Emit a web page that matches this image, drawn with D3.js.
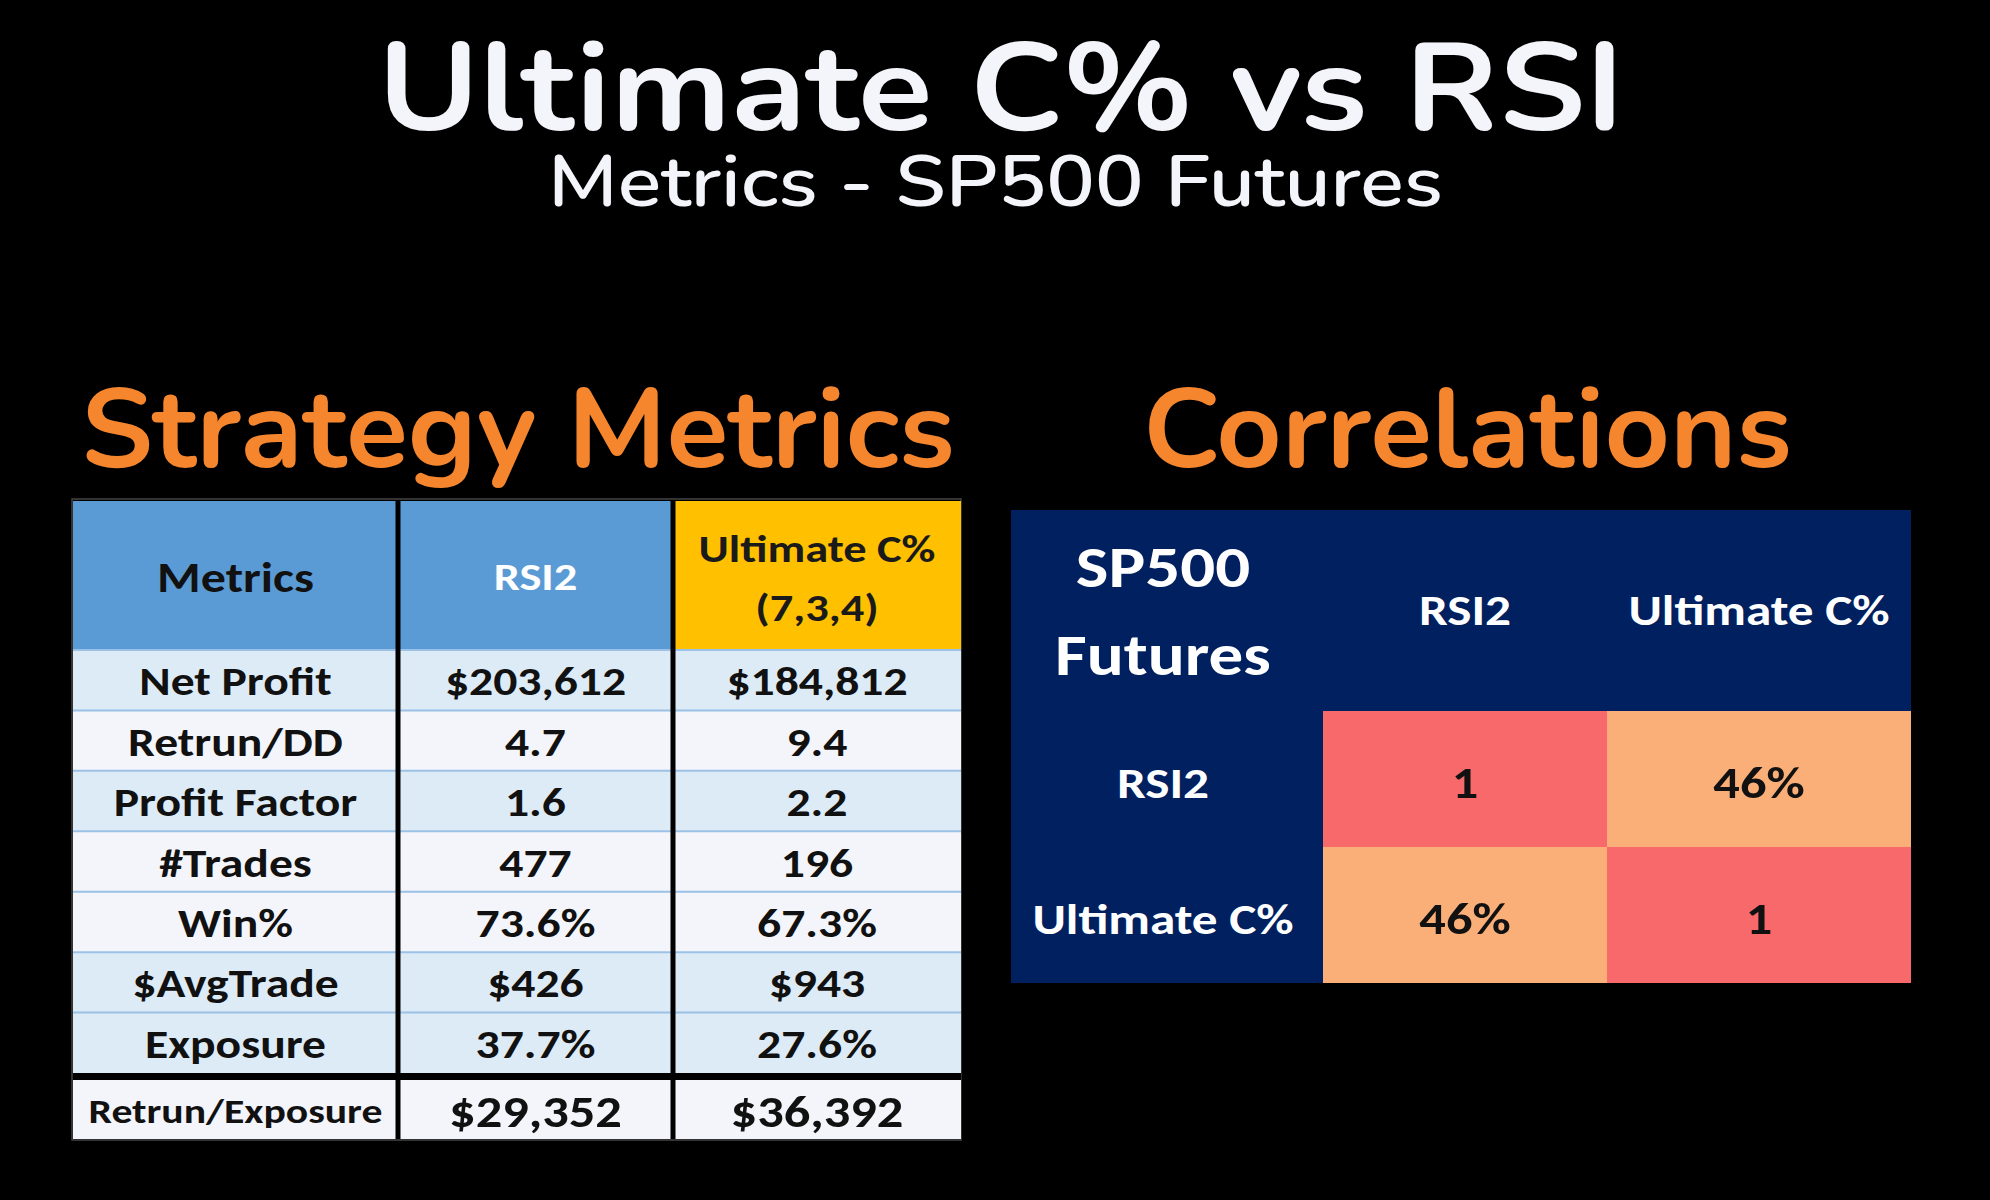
<!DOCTYPE html>
<html>
<head>
<meta charset="utf-8">
<script src="https://cdn.jsdelivr.net/npm/d3@7"></script>
<style>
  html, body { margin: 0; padding: 0; background: #000; }
  svg { display: block; }
</style>
</head>
<body>
<div id="chart"></div>
<script>
// ---- data ----
const titleText = "Ultimate C% vs RSI";
const subtitleText = "Metrics - SP500 Futures";
const leftHeading = "Strategy Metrics";
const rightHeading = "Correlations";

const metricHeader = ["Metrics", "RSI2", "Ultimate C%|(7,3,4)"];
const metricNames = ["Net Profit", "Retrun/DD", "Profit Factor", "#Trades", "Win%", "$AvgTrade", "Exposure"];
const rsi2Values = ["$203,612", "4.7", "1.6", "477", "73.6%", "$426", "37.7%"];
const ultValues = ["$184,812", "9.4", "2.2", "196", "67.3%", "$943", "27.6%"];
const footerRow = ["Retrun/Exposure", "$29,352", "$36,392"];

const corrCorner = ["SP500", "Futures"];
const corrLabels = ["RSI2", "Ultimate C%"];
const corrValues = [[1, 0.46], [0.46, 1]];

// ---- layout ----
const W = 1990, H = 1200;
const tableFont = "Carlito, Lato, 'Open Sans', sans-serif";
const titleFont = "'Nunito', 'Open Sans', 'Noto Sans', sans-serif";
const tableWeight = 800;
const stretchK = 1.19;   // excel text in the picture is drawn wider than the font

const svg = d3.select("#chart")
    .append("svg")
    .attr("width", W)
    .attr("height", H);

svg.append("rect").attr("width", W).attr("height", H).attr("fill", "#000");

// titles, stretched to the reference widths
function bigText(txt, x0, x1, y, size, color, weight) {
    svg.append("text")
        .attr("x", (x0 + x1) / 2)
        .attr("y", y)
        .attr("text-anchor", "middle")
        .attr("textLength", x1 - x0)
        .attr("lengthAdjust", "spacingAndGlyphs")
        .style("font-family", titleFont)
        .style("font-weight", weight)
        .style("font-size", size + "px")
        .style("fill", color)
        .text(txt);
}
bigText(titleText, 378, 1624, 130, 124, "#F4F5FA", 700);
bigText(subtitleText, 548, 1443, 206, 72, "#F4F5FA", 600);
bigText(leftHeading, 81, 955, 467, 112, "#F5862E", 700);
bigText(rightHeading, 1143, 1792, 467, 112, "#F5862E", 700);

// widen a text (or tspan) around its anchor
function widen(sel) {
    sel.each(function() {
        const len = this.getComputedTextLength();
        d3.select(this).attr("textLength", len * stretchK).attr("lengthAdjust", "spacingAndGlyphs");
    });
}

// ---- strategy metrics table ----
const colKeys = ["metric", "rsi", "ult"];
const colX = d3.scaleOrdinal().domain(colKeys).range([73, 398, 673]);
const colW = d3.scaleOrdinal().domain(colKeys).range([325, 275, 288]);
const headTop = 501, headBottom = 650;
const rowY = d3.scaleBand().domain(metricNames).range([headBottom, 1073]).padding(0);
const blueRows = new Set(["Net Profit", "Profit Factor", "$AvgTrade", "Exposure"]);
const footTop = 1080, footBottom = 1139;

const lt = svg.append("g");

// outer frame
lt.append("rect")
    .attr("x", 72).attr("y", headTop - 2)
    .attr("width", 961 - 72).attr("height", footBottom - headTop + 3)
    .attr("fill", "#000").attr("stroke", "#444").attr("stroke-width", 1.5);

// header cells
const headFill = ["#5B9BD5", "#5B9BD5", "#FFC000"];
const headColor = ["#111", "#FFFFFF", "#1a1a1a"];
colKeys.forEach((k, i) => {
    lt.append("rect")
        .attr("x", colX(k)).attr("y", headTop)
        .attr("width", colW(k)).attr("height", headBottom - headTop)
        .attr("fill", headFill[i]);
    const lines = metricHeader[i].split("|");
    const t = lt.append("text")
        .attr("text-anchor", "middle")
        .style("font-family", tableFont)
        .style("font-weight", i === 1 ? 700 : tableWeight)
        .style("font-size", (i === 0 ? 42 : 39) + "px")
        .style("fill", headColor[i]);
    if (lines.length === 1) {
        t.append("tspan").attr("x", colX(k) + colW(k) / 2).attr("y", i === 0 ? 592 : 590).text(lines[0]);
    } else {
        t.append("tspan").attr("x", colX(k) + colW(k) / 2).attr("y", 562).text(lines[0]);
        t.append("tspan").attr("x", colX(k) + colW(k) / 2).attr("y", 621).text(lines[1]);
    }
    widen(t.selectAll("tspan"));
});

// body cells
const rows = metricNames.map((m, i) => ({ metric: m, rsi: rsi2Values[i], ult: ultValues[i] }));
colKeys.forEach(k => {
    lt.selectAll("rect.c-" + k)
        .data(rows)
        .enter().append("rect")
        .attr("class", "c-" + k)
        .attr("x", colX(k))
        .attr("y", d => rowY(d.metric))
        .attr("width", colW(k))
        .attr("height", rowY.bandwidth())
        .attr("fill", d => blueRows.has(d.metric) ? "#DDEBF7" : "#F3F5FB");

    lt.selectAll("text.t-" + k)
        .data(rows)
        .enter().append("text")
        .attr("class", "t-" + k)
        .attr("x", colX(k) + colW(k) / 2)
        .attr("y", d => rowY(d.metric) + rowY.bandwidth() / 2 + 15)
        .attr("text-anchor", "middle")
        .style("font-family", tableFont)
        .style("font-weight", tableWeight)
        .style("font-size", "40px")
        .style("fill", "#111")
        .text(d => d[k])
        .call(widen);
});

// light blue row separators
lt.selectAll("line.sep")
    .data(metricNames.slice(1).concat(["__head"]))
    .enter().append("line")
    .attr("class", "sep")
    .attr("x1", 73).attr("x2", 961)
    .attr("y1", d => d === "__head" ? headBottom : rowY(d))
    .attr("y2", d => d === "__head" ? headBottom : rowY(d))
    .attr("stroke", "#9BC2E6").attr("stroke-width", 2);

// footer row
colKeys.forEach((k, i) => {
    lt.append("rect")
        .attr("x", colX(k)).attr("y", footTop)
        .attr("width", colW(k)).attr("height", footBottom - footTop)
        .attr("fill", "#F3F5FB");
    lt.append("text")
        .attr("x", colX(k) + colW(k) / 2)
        .attr("y", i === 0 ? 1123 : 1127)
        .attr("text-anchor", "middle")
        .style("font-family", tableFont)
        .style("font-weight", tableWeight)
        .style("font-size", (i === 0 ? 35 : 44) + "px")
        .style("fill", "#111")
        .text(footerRow[i])
        .call(widen);
});

// black column dividers and footer separator
lt.selectAll("line.vdiv")
    .data(["rsi", "ult"])
    .enter().append("line")
    .attr("class", "vdiv")
    .attr("x1", d => colX(d)).attr("x2", d => colX(d))
    .attr("y1", headTop).attr("y2", footBottom)
    .attr("stroke", "#000").attr("stroke-width", 5);
lt.append("rect")
    .attr("x", 73).attr("y", 1073)
    .attr("width", 888).attr("height", footTop - 1073)
    .attr("fill", "#000");

// ---- correlations table ----
const cLeft = 1011, cTop = 510, cRight = 1911, cBottom = 983;
const corrX = d3.scaleOrdinal().domain(corrLabels).range([1323, 1607]);
const corrW = d3.scaleOrdinal().domain(corrLabels).range([284, 304]);
const corrY = d3.scaleBand().domain(corrLabels).range([711, cBottom]).padding(0);
const corrColor = d3.scaleLinear().domain([0.46, 1]).range(["#FAAF79", "#F8696B"]);
const fmtCorr = v => v === 1 ? "1" : d3.format(".0%")(v);

const rt = svg.append("g");
rt.append("rect")
    .attr("x", cLeft).attr("y", cTop)
    .attr("width", cRight - cLeft).attr("height", cBottom - cTop)
    .attr("fill", "#002060");

// corner
const labelCx = (cLeft + 1323) / 2 - 4;
rt.append("text")
    .attr("text-anchor", "middle")
    .style("font-family", tableFont)
    .style("font-weight", tableWeight)
    .style("font-size", "58px")
    .style("fill", "#FFFFFF")
    .selectAll("tspan")
    .data(corrCorner)
    .enter().append("tspan")
    .attr("x", labelCx)
    .attr("y", (d, i) => 587 + i * 88)
    .text(d => d)
    .call(widen);

// column headers
rt.selectAll("text.ch")
    .data(corrLabels)
    .enter().append("text")
    .attr("class", "ch")
    .attr("x", d => corrX(d) + corrW(d) / 2)
    .attr("y", 625)
    .attr("text-anchor", "middle")
    .style("font-family", tableFont)
    .style("font-weight", tableWeight)
    .style("font-size", "43px")
    .style("fill", "#FFFFFF")
    .text(d => d)
    .call(widen);

// row headers
rt.selectAll("text.rh")
    .data(corrLabels)
    .enter().append("text")
    .attr("class", "rh")
    .attr("x", labelCx)
    .attr("y", d => corrY(d) + corrY.bandwidth() / 2 + 19)
    .attr("text-anchor", "middle")
    .style("font-family", tableFont)
    .style("font-weight", tableWeight)
    .style("font-size", "43px")
    .style("fill", "#FFFFFF")
    .text(d => d)
    .call(widen);

// cells
const cells = [];
corrLabels.forEach((r, i) => corrLabels.forEach((c, j) => cells.push({ r, c, v: corrValues[i][j] })));

rt.selectAll("rect.cell")
    .data(cells)
    .enter().append("rect")
    .attr("class", "cell")
    .attr("x", d => corrX(d.c))
    .attr("y", d => corrY(d.r))
    .attr("width", d => corrW(d.c))
    .attr("height", corrY.bandwidth())
    .attr("fill", d => corrColor(d.v));

rt.selectAll("text.cv")
    .data(cells)
    .enter().append("text")
    .attr("class", "cv")
    .attr("x", d => corrX(d.c) + corrW(d.c) / 2)
    .attr("y", d => corrY(d.r) + corrY.bandwidth() / 2 + 19)
    .attr("text-anchor", "middle")
    .style("font-family", tableFont)
    .style("font-weight", tableWeight)
    .style("font-size", "44px")
    .style("fill", "#111")
    .text(d => fmtCorr(d.v))
    .call(widen);
</script>
</body>
</html>
